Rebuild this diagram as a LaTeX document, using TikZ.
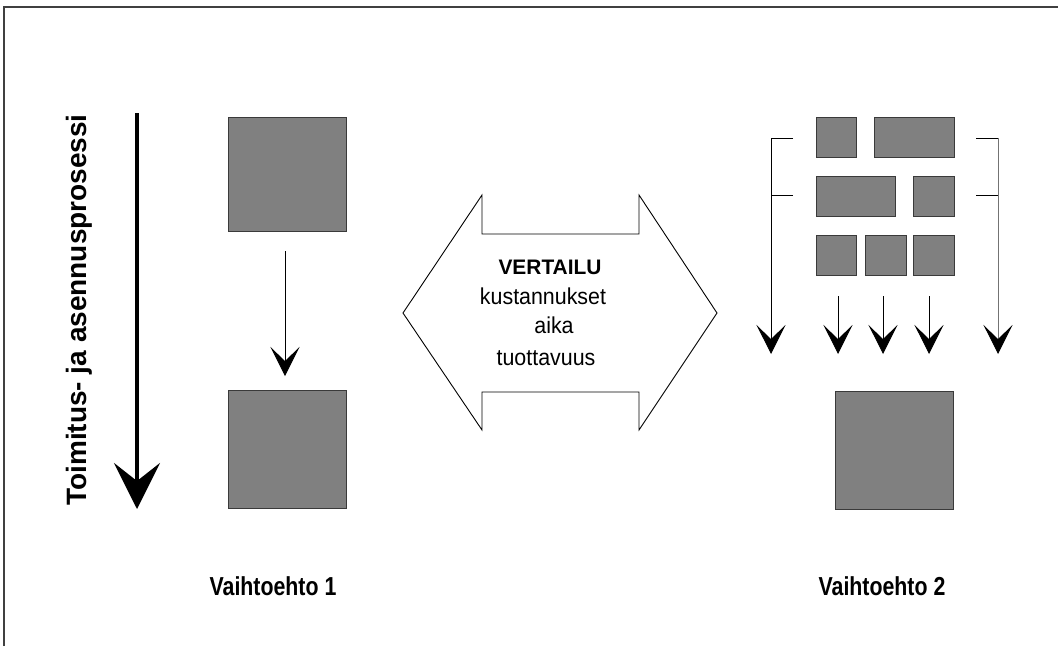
\documentclass[tikz,border=0pt]{standalone}
\usepackage{fontspec}
\setmainfont{Liberation Sans}
\usetikzlibrary{arrows.meta}
\definecolor{boxfill}{HTML}{808080}
\definecolor{boxline}{HTML}{3A3A3A}
\tikzset{
  graybox/.style={draw=boxline, fill=boxfill, line width=1.3pt, inner sep=0pt, anchor=north west},
  thinarrow/.style={line width=1pt, -{Stealth[length=29pt, width=29pt, inset=14pt, color=black]}},
  bigarrow/.style={line width=4pt, -{Stealth[length=46pt, width=46pt, inset=18pt]}},
  bracket/.style={line width=1pt},
  label/.style={font=\fontsize{26}{30}\selectfont\bfseries, anchor=base, inner sep=0pt},
  midtext/.style={font=\fontsize{23}{27}\selectfont, anchor=base, inner sep=0pt, xscale=0.93},
}
\begin{document}
\begin{tikzpicture}[x=1pt, y=-1pt]
\useasboundingbox (0,0) rectangle (1058,646);
% border
\draw[line width=1.5pt, color=black!75] (4,646) -- (4,7) -- (1058,7);

% left process arrow and text
\coordinate (pstart) at (137,113);
\coordinate (pend) at (137,509);
\draw[bigarrow] (pstart) -- (pend);
\node[font=\fontsize{28}{32}\selectfont\bfseries, rotate=90, anchor=base, inner sep=0pt] (proc) at (86,310) {Toimitus- ja asennusprosessi};

% alternative 1
\node[graybox, minimum width=118pt, minimum height=114pt] (s1) at (228,117) {};
\node[graybox, minimum width=118pt, minimum height=118pt] (s2) at (228,390) {};
\coordinate (a1s) at (285,251);
\coordinate (a1e) at (285,376);
\draw[thinarrow] (a1s) -- (a1e);
\node[label] (v1) at (273,595) {\scalebox{0.82}[1]{Vaihtoehto 1}};

% double arrow
\draw[line width=0.9pt] (403,313) -- (482,195) -- (482,234) -- (639,234) -- (639,195) -- (717,313) -- (639,430) -- (639,392) -- (482,392) -- (482,430) -- cycle;
\node[midtext, font=\fontsize{21}{25}\selectfont\bfseries, xscale=1.07] (vt) at (550,274) {VERTAILU};
\node[midtext] (k) at (543,304) {kustannukset};
\node[midtext] (ai) at (554,333) {aika};
\node[midtext] (tu) at (546,365) {tuottavuus};

% alternative 2
\node[graybox, minimum width=40pt, minimum height=40pt] (bA) at (816,117) {};
\node[graybox, minimum width=80pt, minimum height=40pt] (bB) at (874,117) {};
\node[graybox, minimum width=79pt, minimum height=40pt] (bC) at (816,176) {};
\node[graybox, minimum width=41pt, minimum height=40pt] (bD) at (913,176) {};
\node[graybox, minimum width=40pt, minimum height=40pt] (bE) at (816,235) {};
\node[graybox, minimum width=41pt, minimum height=40pt] (bF) at (865,235) {};
\node[graybox, minimum width=41pt, minimum height=40pt] (bG) at (913,235) {};
\node[graybox, minimum width=118pt, minimum height=118pt] (s3) at (835,391) {};

% brackets
\coordinate (l1) at (793,138); \coordinate (l2) at (771,138);
\coordinate (l3) at (793,195); \coordinate (l4) at (771,195);
\coordinate (lend) at (771,354);
\draw[bracket] (l1) -- (l2);
\draw[bracket] (l3) -- (l4);
\draw[thinarrow] (l2) -- (lend);
\coordinate (r1) at (976,138); \coordinate (r2) at (998,138);
\coordinate (r3) at (976,195); \coordinate (r4) at (998,195);
\coordinate (rend) at (998,354);
\draw[bracket] (r1) -- (r2);
\draw[bracket] (r3) -- (r4);
\draw[thinarrow, draw=black!55] (r2) -- (rend);

% short arrows
\coordinate (c1s) at (838,296); \coordinate (c1e) at (838,354);
\coordinate (c2s) at (883,296); \coordinate (c2e) at (883,354);
\coordinate (c3s) at (929,296); \coordinate (c3e) at (929,354);
\draw[thinarrow] (c1s) -- (c1e);
\draw[thinarrow] (c2s) -- (c2e);
\draw[thinarrow] (c3s) -- (c3e);

\node[label] (v2) at (882,595) {\scalebox{0.82}[1]{Vaihtoehto 2}};
\end{tikzpicture}
\end{document}
